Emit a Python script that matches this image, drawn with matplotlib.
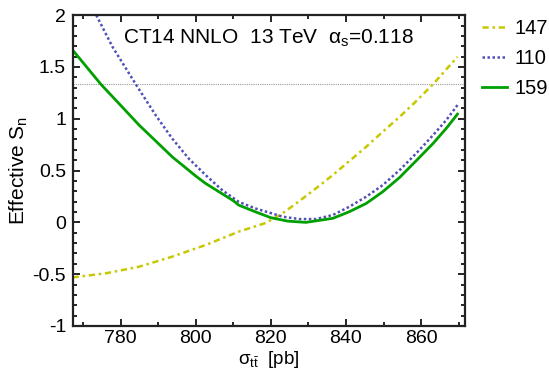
import numpy as np
import matplotlib
matplotlib.use("Agg")
import matplotlib.pyplot as plt
from matplotlib.ticker import MultipleLocator

plt.rcParams['font.family'] = ['Liberation Sans', 'DejaVu Sans']
plt.rcParams['mathtext.fontset'] = 'custom'
plt.rcParams['mathtext.rm'] = 'Liberation Sans'
plt.rcParams['mathtext.it'] = 'Liberation Sans'
plt.rcParams['axes.unicode_minus'] = False

# 各曲線のデータ
x_147 = [767.2, 776.0, 784.9, 793.7, 802.6, 811.4, 818.7, 823.1, 827.6, 832.0,
         836.5, 840.9, 845.4, 849.8, 854.3, 858.7, 863.2, 869.7]
y_147 = [-0.531, -0.492, -0.428, -0.331, -0.219, -0.09, -0.005, 0.087, 0.206, 0.328,
         0.457, 0.592, 0.73, 0.875, 1.019, 1.170, 1.334, 1.598]

x_110 = [773.5, 777.8, 784.0, 789.3, 793.7, 798.1, 802.6, 807.0, 811.4, 815.8,
         819.5, 823.1, 827.6, 832.0, 836.5, 840.9, 845.4, 849.8, 854.3, 858.7,
         863.2, 866.7, 869.7]
y_110 = [2.0, 1.695, 1.334, 1.035, 0.81, 0.617, 0.457, 0.312, 0.199, 0.135,
         0.095, 0.055, 0.032, 0.032, 0.071, 0.151, 0.248, 0.36, 0.505, 0.666,
         0.842, 0.987, 1.132]

x_159 = [767.6, 774.7, 780.0, 784.9, 790.0, 793.7, 800.0, 802.6, 810.0, 811.4,
         816.0, 820.0, 824.5, 829.3, 836.5, 840.9, 845.4, 849.8, 854.3, 858.7,
         863.2, 866.7, 869.7]
y_159 = [1.646, 1.334, 1.129, 0.939, 0.762, 0.633, 0.447, 0.376, 0.209, 0.167,
         0.1, 0.045, 0.012, 0.0, 0.039, 0.103, 0.183, 0.296, 0.434, 0.595,
         0.762, 0.907, 1.045]

labels = ['147', '110', '159']
ref_level = 1.333

fig = plt.figure(figsize=(5.49, 3.70), dpi=100)
ax = fig.add_axes([0.133, 0.119, 0.714, 0.840])

ax.axhline(ref_level, color='#999999', linestyle=(0, (1, 1)), linewidth=0.8)
ax.plot(x_147, y_147, color='#c8c800', linestyle=(0, (2.5, 1.5, 1, 1.5)), linewidth=1.8, label=labels[0])
ax.plot(x_110, y_110, color='#5050b8', linestyle=(0, (1, 1)), linewidth=1.8, label=labels[1])
ax.plot(x_159, y_159, color='#00a000', linestyle='-', linewidth=2.0, label=labels[2])

ax.set_xlim(767.3, 871.7)
ax.set_ylim(-1, 2)
ax.xaxis.set_major_locator(MultipleLocator(20))
ax.xaxis.set_minor_locator(MultipleLocator(10))
ax.yaxis.set_minor_locator(MultipleLocator(0.1))
ax.set_yticks([-1, -0.5, 0, 0.5, 1, 1.5, 2])
ax.set_yticklabels(['-1', '-0.5', '0', '0.5', '1', '1.5', '2'])
ax.tick_params(which='both', direction='in', top=True, right=True, labelsize=14, width=1.2)
ax.tick_params(which='major', length=5, pad=5)
ax.tick_params(axis='x', which='major', pad=3)
ax.tick_params(which='minor', length=3)
for s in ax.spines.values():
    s.set_linewidth(1.6)
    s.set_color('#222222')

ax.set_xlabel(r'$\sigma_{t\bar{t}}$  [pb]', fontsize=13.5)
ax.xaxis.set_label_coords(0.5, -0.074)
ax.set_ylabel(r'Effective S$_\mathrm{n}$', fontsize=15)
ax.yaxis.set_label_coords(-0.11, 0.5)

ax.text(0.128, 0.926, r'CT14 NNLO  13 TeV  $\alpha_s$=0.118', transform=ax.transAxes,
        fontsize=15, va='center', ha='left')

ax.legend(loc='upper left', bbox_to_anchor=(1.012, 1.027), frameon=False, fontsize=14.5,
          handlelength=1.25, handletextpad=0.35, labelspacing=0.55, borderaxespad=0.2)

plt.savefig('out.png', dpi=100)
